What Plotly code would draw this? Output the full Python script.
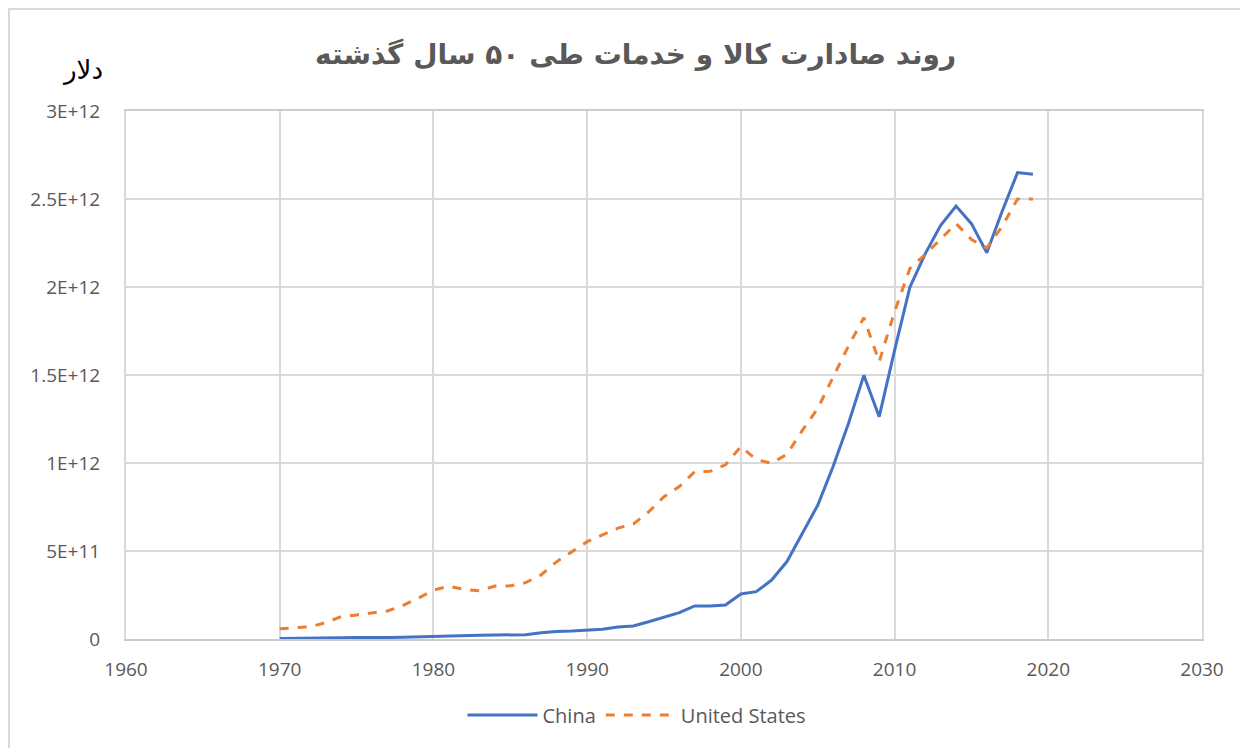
import plotly.graph_objects as go

years = list(range(1970, 2020))

china = [0.003, 0.003, 0.004, 0.006, 0.007, 0.008, 0.007, 0.008, 0.010, 0.013,
         0.016, 0.020, 0.022, 0.022, 0.023, 0.023, 0.024, 0.036, 0.043, 0.045,
         0.050, 0.056, 0.068, 0.074, 0.098, 0.122, 0.150, 0.188, 0.188, 0.193,
         0.256, 0.269, 0.335, 0.440, 0.600, 0.760, 0.980, 1.225, 1.498, 1.263,
         1.640, 2.000, 2.190, 2.350, 2.460, 2.360, 2.195, 2.430, 2.650, 2.640]
china = [v * 1e12 for v in china]

usa = [0.058, 0.062, 0.070, 0.093, 0.127, 0.137, 0.150, 0.159, 0.190, 0.231,
       0.278, 0.300, 0.282, 0.274, 0.301, 0.302, 0.320, 0.364, 0.438, 0.497,
       0.553, 0.592, 0.630, 0.653, 0.722, 0.809, 0.866, 0.951, 0.953, 0.990,
       1.094, 1.020, 0.998, 1.050, 1.185, 1.310, 1.485, 1.665, 1.825, 1.575,
       1.860, 2.106, 2.185, 2.275, 2.360, 2.270, 2.222, 2.345, 2.500, 2.500]
usa = [v * 1e12 for v in usa]

ytick_vals = [0, 5e11, 1e12, 1.5e12, 2e12, 2.5e12, 3e12]
ytick_text = ["0", "5E+11", "1E+12", "1.5E+12", "2E+12", "2.5E+12", "3E+12"]
xtick_vals = [1960, 1970, 1980, 1990, 2000, 2010, 2020, 2030]

title_text = "روند صادارت کالا و خدمات طی ۵۰ سال گذشته"
unit_text = "دلار"

# page has an 8px body margin, so figure coordinates = reference - 8
OFF = 8
W, H = 1248, 748
L = 126 - OFF
T = 111 - OFF
R = W - (1202 - OFF)
B = H - (639 - OFF)
pw, ph = W - L - R, H - T - B

def px_x(p):
    return (p - OFF - L) / pw

def px_y(p):
    return (H - B - (p - OFF)) / ph

fig = go.Figure()
fig.add_trace(go.Scatter(x=years, y=china, mode="lines", name="China",
                         line=dict(color="#4472C4", width=3)))
fig.add_trace(go.Scatter(x=years, y=usa, mode="lines", name="United States",
                         line=dict(color="#ED7D31", width=3, dash="dash")))

grid = "#d9d9d9"
tickfont = dict(family="Open Sans, Liberation Sans, sans-serif", size=19, color="#595959")

fig.update_layout(
    width=W, height=H,
    margin=dict(l=L, r=R, t=T, b=B),
    paper_bgcolor="white", plot_bgcolor="white",
    showlegend=True,
    legend=dict(orientation="h", x=px_x(637), xanchor="center", y=px_y(715), yanchor="middle",
                font=dict(family="Open Sans, Liberation Sans, sans-serif", size=20, color="#595959"),
                itemwidth=70, tracegroupgap=0, bgcolor="rgba(0,0,0,0)"),
    xaxis=dict(range=[1960, 2030], tickvals=xtick_vals, showgrid=True, gridcolor=grid, gridwidth=2,
               showline=True, linecolor="#cccccc", linewidth=2, mirror=True, zeroline=False,
               ticks="", tickfont=tickfont, ticklabelstandoff=12, fixedrange=True),
    yaxis=dict(range=[0, 3e12], tickvals=ytick_vals, ticktext=ytick_text, showgrid=True,
               gridcolor=grid, gridwidth=2, showline=True, linecolor=grid, linewidth=2,
               mirror=True, zeroline=False, ticks="", tickfont=tickfont,
               ticklabelstandoff=20, fixedrange=True),
    annotations=[
        dict(text=title_text, x=px_x(635), y=px_y(54), xref="paper", yref="paper",
             xanchor="center", yanchor="middle", showarrow=False,
             font=dict(family="DejaVu Sans", size=28, color="#595959", weight="bold")),
        dict(text=unit_text, x=px_x(82), y=px_y(70), xref="paper", yref="paper",
             xanchor="center", yanchor="middle", showarrow=False,
             font=dict(family="DejaVu Sans", size=26, color="#000000")),
    ],
    shapes=[
        dict(type="rect", xref="paper", yref="paper", x0=px_x(9), y0=px_y(800),
             x1=px_x(1300), y1=px_y(9), line=dict(color="#d9d9d9", width=2), layer="below"),
    ],
)

fig.write_html("out.html")
